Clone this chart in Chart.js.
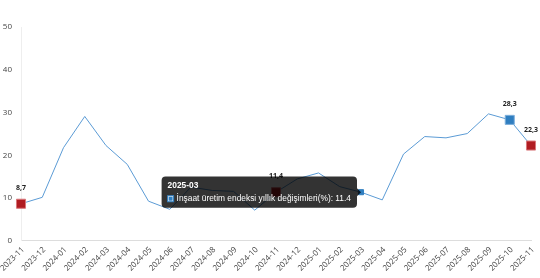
<!DOCTYPE html>
<html><head><meta charset="utf-8">
<script src="https://cdn.jsdelivr.net/npm/chart.js@4"></script>
<style>html,body{margin:0;padding:0;background:#fff}#w{width:540px;height:278px;position:relative}</style>
</head><body><div id="w"><canvas id="c"></canvas></div>
<script>
const categories = ['2023-11','2023-12','2024-01','2024-02','2024-03','2024-04','2024-05','2024-06','2024-07','2024-08','2024-09','2024-10','2024-11','2024-12','2025-01','2025-02','2025-03','2025-04','2025-05','2025-06','2025-07','2025-08','2025-09','2025-10','2025-11'];
const seriesLabel = 'İnşaat üretim endeksi yıllık değişimleri(%)';
const values = [8.7,10.2,21.8,29.1,22.3,17.9,9.3,7.4,12.6,11.8,11.6,7.2,11.4,14.5,15.9,12.7,11.4,9.6,20.3,24.4,24.1,25.1,29.7,28.3,22.3];
const yTicks = [0,10,20,30,40,50];
const redMarkers = [0,12,24];
const blueMarkers = [23];
const labelled = [0,12,23,24];
const hoverIndex = 16;

const RED = '#b01c22', BLUE = '#2f7ec0', LINE = '#5b9bd5';
const radii = values.map((v,i)=> (redMarkers.includes(i)||blueMarkers.includes(i)) ? 6.4 : 0);
const hoverRadii = values.map((v,i)=> (redMarkers.includes(i)||blueMarkers.includes(i)) ? 6.4 : 3.6);
const bgs = values.map((v,i)=> redMarkers.includes(i) ? RED : BLUE);
const bds = values.map((v,i)=> redMarkers.includes(i) ? '#d9777b' : (blueMarkers.includes(i) ? '#7fb0dc' : BLUE));

const labelPlugin = {
  id: 'valueLabels',
  afterDatasetsDraw(chart) {
    const ctx = chart.ctx;
    const meta = chart.getDatasetMeta(0);
    ctx.save();
    ctx.font = 'bold 7px "Open Sans", sans-serif';
    ctx.fillStyle = '#222';
    ctx.textAlign = 'center';
    ctx.textBaseline = 'middle';
    labelled.forEach(i => {
      const p = meta.data[i];
      ctx.fillText(values[i].toFixed(1).replace('.', ','), p.x, p.y - 16);
    });
    ctx.restore();
  }
};

const chart = new Chart(document.getElementById('c'), {
  type: 'line',
  data: {
    labels: categories,
    datasets: [{
      label: seriesLabel,
      data: values,
      borderColor: LINE,
      borderWidth: 1,
      tension: 0,
      fill: false,
      pointStyle: 'rect',
      pointRadius: radii,
      pointHoverRadius: hoverRadii,
      pointBackgroundColor: bgs,
      pointHoverBackgroundColor: bgs,
      pointBorderColor: bds,
      pointHoverBorderColor: bds,
      pointBorderWidth: 1,
      pointHoverBorderWidth: 1
    }]
  },
  options: {
    responsive: true,
    maintainAspectRatio: false,
    animation: false,
    events: [],
    layout: { padding: { top: 27, right: 9, left: 3, bottom: 1 } },
    plugins: {
      legend: { display: false },
      tooltip: {
        enabled: true,
        backgroundColor: 'rgba(0,0,0,0.8)',
        titleFont: { size: 8.4, weight: 'bold' },
        bodyFont: { size: 8.4 },
        padding: { top: 4, bottom: 4, left: 6, right: 6 },
        cornerRadius: 4,
        boxWidth: 6,
        boxHeight: 6,
        boxPadding: 1,
        caretSize: 4,
        caretPadding: 0,
        titleMarginBottom: 3,
        callbacks: {
          label: (c) => c.dataset.label + ': ' + c.parsed.y
        }
      }
    },
    scales: {
      x: {
        grid: { display: false, drawTicks: false },
        border: { display: true, color: '#ddd' },
        afterFit: (s) => { s.paddingLeft = 0; s.paddingRight = 0; },
        ticks: {
          font: { size: 8, family: '"Open Sans", sans-serif' },
          color: '#444',
          minRotation: 45, maxRotation: 45,
          autoSkip: false,
          padding: 4,
          labelOffset: 2
        }
      },
      y: {
        min: 0, max: 50,
        afterBuildTicks: (s) => { s.ticks = yTicks.map(v => ({ value: v })); },
        afterFit: (s) => { s.width = 18; },
        grid: { display: false, drawTicks: false },
        border: { display: true, color: '#eee' },
        ticks: {
          font: { size: 8, family: '"Open Sans", sans-serif' },
          color: '#444',
          padding: 9
        }
      }
    }
  },
  plugins: [labelPlugin]
});
chart.setActiveElements([{ datasetIndex: 0, index: hoverIndex }]);
chart.tooltip.setActiveElements([{ datasetIndex: 0, index: hoverIndex }], { x: 0, y: 0 });
chart.update('none');
</script>
</body></html>
